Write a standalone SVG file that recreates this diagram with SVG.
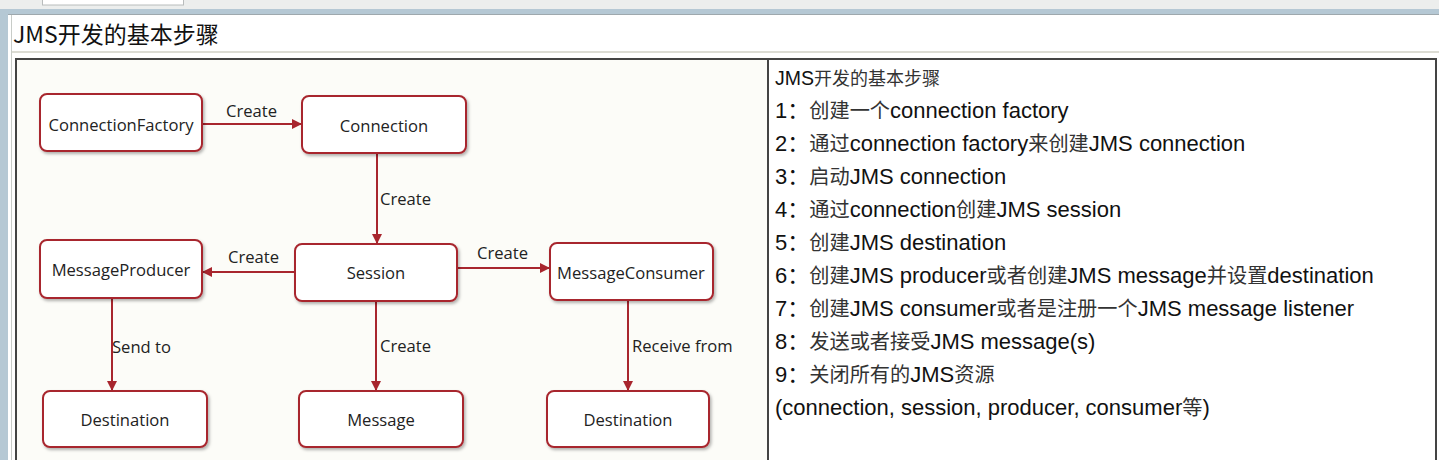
<svg xmlns="http://www.w3.org/2000/svg" width="1439" height="460" viewBox="0 0 1439 460">
<defs>
<style>
.node rect{fill:#ffffff;stroke:#a8262e;stroke-width:2;filter:url(#sh)}
.node text{font-family:"Open Sans","Noto Sans",sans-serif;font-size:16.6px;fill:#222;text-anchor:middle}
.lbl{font-family:"Open Sans","Noto Sans",sans-serif;font-size:16.6px;fill:#222}
.edge{stroke:#a8262e;stroke-width:2;fill:none;marker-end:url(#arr)}
.step{font-family:"Liberation Sans","Noto Sans CJK SC",sans-serif;font-size:22px;fill:#111}
.c{font-size:20.2px;fill:#333}
</style>
<filter id="sh" x="-10%" y="-20%" width="125%" height="150%">
<feDropShadow dx="1.5" dy="2" stdDeviation="1.5" flood-color="#000" flood-opacity="0.3"/>
</filter>
<marker id="arr" viewBox="0 0 10 10" refX="9" refY="5" markerWidth="5" markerHeight="5" orient="auto" markerUnits="strokeWidth">
<path d="M0,0 L10,5 L0,10 z" fill="#a8262e"/>
</marker>
</defs>
<!-- window chrome -->
<rect x="0" y="0" width="1439" height="460" fill="#ffffff"/>
<rect x="0" y="0" width="1439" height="9" fill="#eceeed"/>
<rect x="42.5" y="-1" width="141" height="6" fill="#ffffff" stroke="#b8bcbc" stroke-width="1"/>
<rect x="0" y="9" width="1439" height="5" fill="#b5c8d4"/>
<rect x="0" y="14" width="1439" height="1" fill="#9ea8ad"/>
<rect x="0" y="9" width="8" height="451" fill="#b5c8d4"/>
<rect x="11" y="15" width="1" height="445" fill="#c8ccc8"/>
<text x="13" y="43" style="font-family:'Noto Sans CJK SC','Liberation Sans',sans-serif;font-size:23px;fill:#111">JMS开发的基本步骤</text>
<rect x="12" y="51" width="1427" height="2" fill="#dcdcd4"/>
<!-- table -->
<rect x="16" y="59" width="752" height="410" fill="#fcfcf8"/>
<rect x="16" y="59" width="1420" height="410" fill="none" stroke="#444" stroke-width="2"/>
<line x1="768" y1="59" x2="768" y2="460" stroke="#444" stroke-width="2"/>
<!-- connectors -->
<g id="connectors">
<line class="edge" x1="202" y1="124" x2="301" y2="124"/>
<line class="edge" x1="377" y1="153" x2="377" y2="243"/>
<line class="edge" x1="295" y1="272" x2="203" y2="272"/>
<line class="edge" x1="457" y1="268" x2="549" y2="268"/>
<line class="edge" x1="112" y1="298" x2="112" y2="390"/>
<line class="edge" x1="376" y1="301" x2="376" y2="390"/>
<line class="edge" x1="628" y1="300" x2="628" y2="390"/>
<text class="lbl" x="226" y="117">Create</text>
<text class="lbl" x="380" y="205">Create</text>
<text class="lbl" x="228" y="263">Create</text>
<text class="lbl" x="477" y="259">Create</text>
<text class="lbl" x="112" y="353">Send to</text>
<text class="lbl" x="380" y="352">Create</text>
<text class="lbl" x="632" y="352">Receive from</text>
</g>
<!-- nodes -->
<g id="n-connectionfactory" class="node"><rect x="40" y="94" width="162" height="57" rx="7"/><text x="121" y="131">ConnectionFactory</text></g>
<g id="n-connection" class="node"><rect x="302" y="96" width="164" height="57" rx="7"/><text x="384" y="132">Connection</text></g>
<g id="n-messageproducer" class="node"><rect x="40" y="240" width="162" height="58" rx="7"/><text x="121" y="276">MessageProducer</text></g>
<g id="n-session" class="node"><rect x="295" y="244" width="162" height="57" rx="7"/><text x="376" y="279">Session</text></g>
<g id="n-messageconsumer" class="node"><rect x="550" y="243" width="163" height="57" rx="7"/><text x="631" y="279">MessageConsumer</text></g>
<g id="n-destination1" class="node"><rect x="43" y="391" width="164" height="56" rx="7"/><text x="125" y="426">Destination</text></g>
<g id="n-message" class="node"><rect x="299" y="391" width="164" height="56" rx="7"/><text x="381" y="426">Message</text></g>
<g id="n-destination2" class="node"><rect x="547" y="391" width="162" height="56" rx="7"/><text x="628" y="426">Destination</text></g>
<!-- steps -->
<g id="steps">
<text class="step" x="775" y="85" style="font-size:19.5px">JMS<tspan class="c" style="font-size:18px">开发的基本步骤</tspan></text>
<text class="step" x="775" y="118">1：<tspan class="c">创建一个</tspan>connection factory</text>
<text class="step" x="775" y="151">2：<tspan class="c">通过</tspan>connection factory<tspan class="c">来创建</tspan>JMS connection</text>
<text class="step" x="775" y="184">3：<tspan class="c">启动</tspan>JMS connection</text>
<text class="step" x="775" y="217">4：<tspan class="c">通过</tspan>connection<tspan class="c">创建</tspan>JMS session</text>
<text class="step" x="775" y="250">5：<tspan class="c">创建</tspan>JMS destination</text>
<text class="step" x="775" y="283">6：<tspan class="c">创建</tspan>JMS producer<tspan class="c">或者创建</tspan>JMS message<tspan class="c">并设置</tspan>destination</text>
<text class="step" x="775" y="316">7：<tspan class="c">创建</tspan>JMS consumer<tspan class="c">或者是注册一个</tspan>JMS message listener</text>
<text class="step" x="775" y="349">8：<tspan class="c">发送或者接受</tspan>JMS message(s)</text>
<text class="step" x="775" y="382">9：<tspan class="c">关闭所有的</tspan>JMS<tspan class="c">资源</tspan></text>
<text class="step" x="775" y="415">(connection, session, producer, consumer<tspan class="c">等</tspan>)</text>
</g>
</svg>
